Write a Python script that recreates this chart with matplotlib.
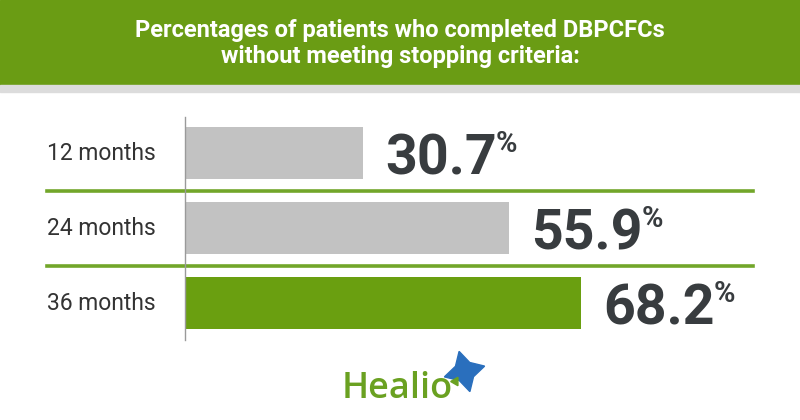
import matplotlib.pyplot as plt
from matplotlib.patches import Rectangle
from matplotlib.lines import Line2D
from matplotlib.transforms import blended_transform_factory

categories = ["12 months", "24 months", "36 months"]
values = [30.7, 55.9, 68.2]
bar_colors = ["#c2c2c2", "#c2c2c2", "#6a9f10"]
title_lines = ["Percentages of patients who completed DBPCFCs",
               "without meeting stopping criteria:"]

W, H = 800, 420
fig = plt.figure(figsize=(8, 4.2), dpi=100)
fig.patch.set_facecolor("white")

# header band + thin gray strip
fig.add_artist(Rectangle((0, 1 - 85 / H), 1, 85 / H, transform=fig.transFigure,
                         color="#6a9c14", zorder=0))
fig.add_artist(Rectangle((0, 1 - 92 / H), 1, 7 / H, transform=fig.transFigure,
                         color="#dcdcdc", zorder=0))
fig.text(0.5, 1 - 30 / H, title_lines[0], ha="center", va="center", color="white",
         fontsize=17, fontweight="bold", family="Roboto")
fig.text(0.5, 1 - 57 / H, title_lines[1], ha="center", va="center", color="white",
         fontsize=17, fontweight="bold", family="Roboto")

# main axes: left edge at x=185px, ~5.8 px per percent
ax_left, ax_w = 185, 600
ax = fig.add_axes([ax_left / W, 1 - 340 / H, ax_w / W, 223 / H])
ax.set_xlim(0, ax_w / 5.8)
ax.set_ylim(2.49, -0.48)
ax.set_facecolor("none")

ypos = list(range(len(categories)))
ax.barh(ypos, values, height=0.69, color=bar_colors, zorder=2)

for s in ["top", "right", "bottom"]:
    ax.spines[s].set_visible(False)
ax.spines["left"].set_color("#9a9a9a")
ax.spines["left"].set_linewidth(1)
ax.set_xticks([])
ax.set_yticks([])

# category labels, left-aligned at x=47px
trans = blended_transform_factory(ax.transAxes, ax.transData)
x_lab = -(ax_left - 47) / ax_w
for y, c in zip(ypos, categories):
    ax.text(x_lab, y, c, transform=trans, ha="left", va="center",
            family="Roboto", fontsize=16.5, color="#333333")

# green separators between rows
for y in [0.5, 1.5]:
    ax.axhline(y, xmin=x_lab, xmax=(753 - ax_left) / ax_w,
               color="#72a62a", linewidth=2.6, clip_on=False, zorder=1)

# value labels with superscript %
fig.canvas.draw()
renderer = fig.canvas.get_renderer()
for y, v in zip(ypos, values):
    t = ax.annotate(f"{v}", xy=(v, y + 0.29), xytext=(16, 0), textcoords="offset points",
                    ha="left", va="baseline", fontsize=40, fontweight="bold",
                    color="#383c3f", family="Roboto")
    bb = t.get_window_extent(renderer)
    fig.text((bb.x1 - 1) / W, (bb.y1 + 4) / H, "%", ha="left", va="top",
             fontsize=21, fontweight="bold", color="#383c3f", family="Roboto")

# Healio logo
fig.text(397 / W, 1 - 398 / H, "Healio", ha="center", va="baseline", fontsize=26,
         color="#6aa121", family="Open Sans", fontweight="semibold")
fig.add_artist(Line2D([464 / W], [1 - 371 / H], marker=(4, 1, 15), markersize=30,
                      color="#2a6fbd", transform=fig.transFigure, linestyle="none"))
fig.add_artist(Line2D([455 / W], [1 - 381 / H], marker=(3, 0, 210), markersize=7,
                      color="#6aa121", transform=fig.transFigure, linestyle="none"))

fig.savefig("out.png", dpi=100)
